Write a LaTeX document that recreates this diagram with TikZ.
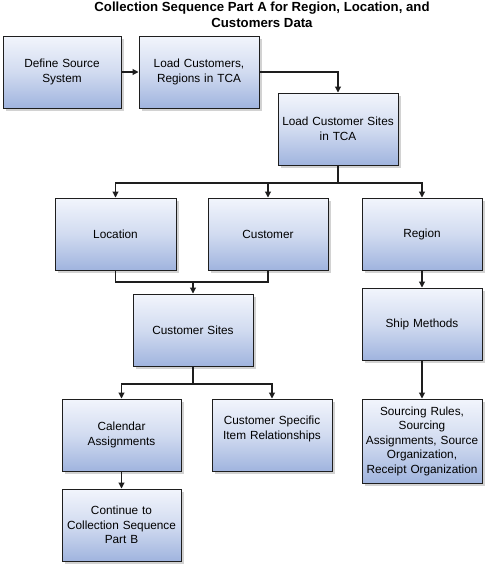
\documentclass[tikz,border=0pt]{standalone}
\usepackage{fontspec}
\setmainfont{Liberation Sans}
\usetikzlibrary{shadows,arrows.meta}
\definecolor{boxtop}{RGB}{242,245,252}
\definecolor{boxbot}{RGB}{160,180,222}
\definecolor{lineclr}{RGB}{30,30,30}
\tikzset{
  stepbox/.style={draw=lineclr, line width=1pt, rectangle, minimum width=120pt, minimum height=72pt,
    text width=114pt, inner xsep=1pt, align=center, font=\fontsize{11.8}{14.5}\selectfont,
    top color=boxtop, bottom color=boxbot, middle color=boxtop!60!boxbot,
    drop shadow={shadow xshift=2.5pt, shadow yshift=-2.5pt, fill=black!25, opacity=0.7}},
  arr/.style={draw=lineclr, line width=1.1pt, -{Triangle[length=6pt,width=6pt]}},
  ln/.style={draw=lineclr, line width=1.1pt}
}
\begin{document}
\begin{tikzpicture}[x=1pt,y=-1pt]
\useasboundingbox[fill=white] (0,0) rectangle (486,566);
\node[font=\bfseries\fontsize{13.2}{16}\selectfont, align=center] (title) at (262,15)
  {Collection Sequence Part A for Region, Location, and\\Customers Data};
\node[stepbox, minimum width=118pt] (def) at (62,72) {Define Source\\System};
\node[stepbox] (lc) at (199,72) {Load Customers,\\Regions in TCA};
\node[stepbox] (lcs) at (338,129) {Load Customer Sites\\in TCA};
\node[stepbox, minimum width=121pt] (loc) at (115.5,234) {Location};
\node[stepbox] (cust) at (268,234) {Customer};
\node[stepbox] (reg) at (422,234) {Region};
\node[stepbox] (cs) at (193,330) {Customer Sites};
\node[stepbox] (ship) at (422,324) {Ship Methods};
\node[stepbox, minimum width=119pt] (cal) at (121.5,435) {Calendar\\Assignments};
\node[stepbox] (csir) at (272,435) {Customer Specific\\Item Relationships\\\mbox{}};
\node[stepbox, minimum height=84pt] (src) at (422,441) {Sourcing Rules,\\Sourcing\\Assignments, Source\\Organization,\\Receipt Organization};
\node[stepbox, minimum width=119pt] (cont) at (121.5,525) {Continue to\\Collection Sequence\\Part B};

\coordinate (b1) at (338,183);
\coordinate (b2) at (193,282);
\coordinate (b3) at (193,384);

\draw[arr] (def.east) -- (lc.west);
\draw[arr] (lc.east) -| (lcs.north);
\draw[ln] (lcs.south) -- (b1);
\draw[arr] (b1) -| (loc.north);
\draw[arr] (b1) -| (reg.north);
\draw[arr] (cust.north |- b1) -- (cust.north);
\draw[ln] (loc.south) |- (cust.south |- b2) -- (cust.south);
\draw[arr] (b2) -- (cs.north);
\draw[ln] (cs.south) -- (b3);
\draw[arr] (b3) -| (cal.north);
\draw[arr] (b3) -| (csir.north);
\draw[arr] (reg.south) -- (ship.north);
\draw[arr] (ship.south) -- (src.north);
\draw[arr] (cal.south) -- (cont.north);
\end{tikzpicture}
\end{document}
